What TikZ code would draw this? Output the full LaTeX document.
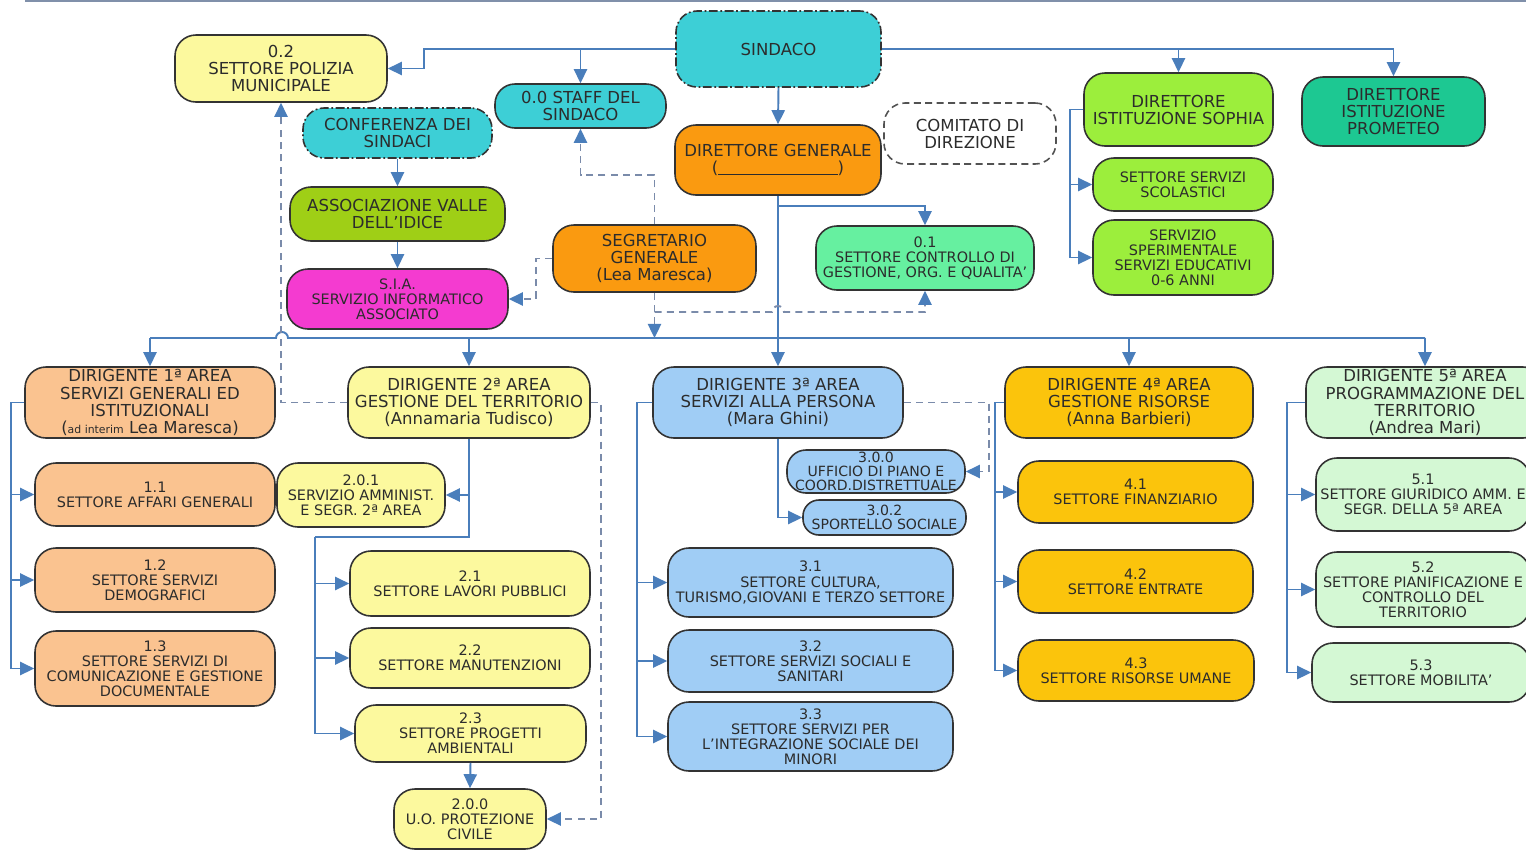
\documentclass[tikz,border=0pt]{standalone}
\usepackage{fontspec}
\setmainfont{DejaVu Sans}
\usetikzlibrary{arrows.meta}
\definecolor{cy}{HTML}{3DCFD6}
\definecolor{yel}{HTML}{FCF99E}
\definecolor{ygreen}{HTML}{9FCF16}
\definecolor{mag}{HTML}{F43BD0}
\definecolor{org}{HTML}{FA9A10}
\definecolor{lgreen}{HTML}{66F0A0}
\definecolor{sgreen}{HTML}{9CEE3C}
\definecolor{tealg}{HTML}{1DC892}
\definecolor{peach}{HTML}{FAC390}
\definecolor{lblue}{HTML}{A0CDF5}
\definecolor{gold}{HTML}{FBC40C}
\definecolor{pgreen}{HTML}{D4F8D4}
\definecolor{bord}{HTML}{333333}
\definecolor{txt}{HTML}{2C2C2C}
\definecolor{conn}{HTML}{4A7EBB}
\definecolor{dconn}{HTML}{7A8BAA}
\definecolor{topl}{HTML}{8090AA}
\newcommand{\fbig}{\fontsize{9.4}{9.7}\selectfont}
\newcommand{\fsm}{\fontsize{8.2}{8.6}\selectfont}
\newcommand{\obox}[7]{\node[#6, minimum width={(#4-#2)*0.02cm}, minimum height={(#5-#3)*0.02cm}] (#1) at ({(#2+#4)/2},{(#3+#5)/2}) {#7};}
\tikzset{
  bx/.style={draw=bord, line width=0.9pt, rounded corners=0.42cm, align=center, inner sep=1pt, text=txt, font=\fbig},
  sbx/.style={bx, font=\fsm},
  dashdot/.style={dash pattern=on 5pt off 1.5pt on 1pt off 1.5pt},
  dsh/.style={dash pattern=on 4pt off 2.5pt},
  ln/.style={draw=conn, line width=1.1pt},
  arr/.style={ln, -{Triangle[length=8pt,width=7.5pt]}},
  darr/.style={draw=dconn, line width=1.1pt, dash pattern=on 4pt off 3pt, -{Triangle[length=8pt,width=7.5pt,color=conn,fill=conn]}},
  dln/.style={draw=dconn, line width=1.1pt, dash pattern=on 4pt off 3pt}
}
\begin{document}
\begin{tikzpicture}[x=0.02cm, y=-0.02cm]
\useasboundingbox (0,0) rectangle (1526,850);
\clip (0,0) rectangle (1526,850);
\fill[white] (0,0) rectangle (1526,850);
\draw[topl, line width=1.5pt] (25,1) -- (1526,1);

% top level
\obox{sind}{676}{11}{881}{87}{bx, fill=cy, dashdot}{SINDACO}
\obox{pol}{175}{35}{387}{102}{bx, fill=yel}{0.2\\SETTORE POLIZIA\\MUNICIPALE}
\obox{staff}{495}{84}{666}{128}{bx, fill=cy, rounded corners=0.4cm}{0.0 STAFF DEL\\SINDACO}
\obox{conf}{303}{108}{492}{158}{bx, fill=cy, dashdot}{CONFERENZA DEI\\SINDACI}
\obox{assoc}{290}{187}{505}{241}{bx, fill=ygreen}{ASSOCIAZIONE VALLE\\DELL'IDICE}
\obox{sia}{287}{269}{508}{329}{sbx, fill=mag}{S.I.A.\\SERVIZIO INFORMATICO\\ASSOCIATO}
\obox{dg}{675}{125}{881}{195}{bx, fill=org}{DIRETTORE GENERALE\\(\rule[-1pt]{68pt}{0.5pt})}
\obox{com}{884}{103}{1056}{164}{bx, fill=white, draw=bord!85, dsh}{COMITATO DI\\DIREZIONE}
\obox{seg}{553}{225}{756}{292}{bx, fill=org}{SEGRETARIO\\GENERALE\\(Lea Maresca)}
\obox{q01}{816}{226}{1034}{290}{sbx, fill=lgreen}{0.1\\SETTORE CONTROLLO DI\\GESTIONE, ORG. E QUALITA'}
\obox{soph}{1084}{73}{1273}{146}{bx, fill=sgreen}{DIRETTORE\\ISTITUZIONE SOPHIA}
\obox{scol}{1093}{158}{1273}{211}{sbx, fill=sgreen}{SETTORE SERVIZI\\SCOLASTICI}
\obox{sper}{1093}{220}{1273}{295}{sbx, fill=sgreen}{SERVIZIO\\SPERIMENTALE\\SERVIZI EDUCATIVI\\0-6 ANNI}
\obox{prom}{1302}{77}{1485}{146}{bx, fill=tealg}{DIRETTORE\\ISTITUZIONE\\PROMETEO}

% area heads
\obox{dir1}{25}{367}{275}{438}{bx, fill=peach}{DIRIGENTE 1ª AREA\\SERVIZI GENERALI ED\\ISTITUZIONALI\\({\fontsize{6.2}{7}\selectfont ad interim} Lea Maresca)}
\obox{dir2}{348}{367}{590}{438}{bx, fill=yel}{DIRIGENTE 2ª AREA\\GESTIONE DEL TERRITORIO\\(Annamaria Tudisco)}
\obox{dir3}{653}{367}{903}{438}{bx, fill=lblue}{DIRIGENTE 3ª AREA\\SERVIZI ALLA PERSONA\\(Mara Ghini)}
\obox{dir4}{1005}{367}{1253}{438}{bx, fill=gold}{DIRIGENTE 4ª AREA\\GESTIONE RISORSE\\(Anna Barbieri)}
\obox{dir5}{1306}{367}{1544}{438}{bx, fill=pgreen}{DIRIGENTE 5ª AREA\\PROGRAMMAZIONE DEL\\TERRITORIO\\(Andrea Mari)}

% area 1
\obox{s11}{35}{463}{275}{526}{sbx, fill=peach}{1.1\\SETTORE AFFARI GENERALI}
\obox{s12}{35}{548}{275}{612}{sbx, fill=peach}{1.2\\SETTORE SERVIZI\\DEMOGRAFICI}
\obox{s13}{35}{631}{275}{706}{sbx, fill=peach}{1.3\\SETTORE SERVIZI DI\\COMUNICAZIONE E GESTIONE\\DOCUMENTALE}
% area 2
\obox{s201}{277}{463}{445}{527}{sbx, fill=yel}{2.0.1\\SERVIZIO AMMINIST.\\E SEGR. 2ª AREA}
\obox{s21}{350}{551}{590}{616}{sbx, fill=yel}{2.1\\SETTORE LAVORI PUBBLICI}
\obox{s22}{350}{628}{590}{688}{sbx, fill=yel}{2.2\\SETTORE MANUTENZIONI}
\obox{s23}{355}{705}{586}{762}{sbx, fill=yel}{2.3\\SETTORE PROGETTI\\AMBIENTALI}
\obox{s200}{394}{789}{546}{849}{sbx, fill=yel}{2.0.0\\U.O. PROTEZIONE\\CIVILE}
% area 3
\obox{s300}{787}{450}{965}{493}{sbx, fill=lblue, rounded corners=0.38cm, font=\fontsize{8}{7.9}\selectfont}{3.0.0\\UFFICIO DI PIANO E\\COORD.DISTRETTUALE}
\obox{s302}{803}{500}{966}{535}{sbx, fill=lblue, rounded corners=0.32cm, font=\fontsize{8}{7.9}\selectfont}{3.0.2\\SPORTELLO SOCIALE}
\obox{s31}{668}{548}{953}{617}{sbx, fill=lblue}{3.1\\SETTORE CULTURA,\\TURISMO,GIOVANI E TERZO SETTORE}
\obox{s32}{668}{630}{953}{692}{sbx, fill=lblue}{3.2\\SETTORE SERVIZI SOCIALI E\\SANITARI}
\obox{s33}{668}{702}{953}{771}{sbx, fill=lblue}{3.3\\SETTORE SERVIZI PER\\L'INTEGRAZIONE SOCIALE DEI\\MINORI}
% area 4
\obox{s41}{1018}{461}{1253}{523}{sbx, fill=gold}{4.1\\SETTORE FINANZIARIO}
\obox{s42}{1018}{550}{1253}{613}{sbx, fill=gold}{4.2\\SETTORE ENTRATE}
\obox{s43}{1018}{640}{1254}{701}{sbx, fill=gold}{4.3\\SETTORE RISORSE UMANE}
% area 5
\obox{s51}{1316}{458}{1530}{531}{sbx, fill=pgreen}{5.1\\SETTORE GIURIDICO AMM. E\\SEGR. DELLA 5ª AREA}
\obox{s52}{1316}{552}{1530}{627}{sbx, fill=pgreen}{5.2\\SETTORE PIANIFICAZIONE E\\CONTROLLO DEL\\TERRITORIO}
\obox{s53}{1312}{643}{1530}{702}{sbx, fill=pgreen}{5.3\\SETTORE MOBILITA'}

% junction coordinates
\coordinate (jpol) at (424,49);
\coordinate (bus) at (0,338);
\coordinate (jdg) at (0,206);
\coordinate (jstaff) at (0,175);
\coordinate (jsia) at (536,0);
\coordinate (jq) at (0,312);
\coordinate (k2) at (315,537);
\coordinate (hop1) at (276,338);
\coordinate (hop2) at (772,312);

% connectors from SINDACO
\draw[arr] (sind.west) -- (jpol) |- (pol.east);
\draw[arr] (staff.north |- sind.west) -- (staff.north);
\draw[arr] (sind.south) -- (dg.north);
\draw[ln] (sind.east) -- (prom.north |- sind.east);
\draw[arr] (soph.north |- sind.east) -- (soph.north);
\draw[arr] (prom.north |- sind.east) -- (prom.north);
\draw[arr] (conf.south) -- (assoc.north);
\draw[arr] (assoc.south) -- (sia.north);
% sophia children
\draw[arr] (soph.west) -- ++(-13,0) |- (scol.west);
\draw[arr] (soph.west) -- ++(-13,0) |- (sper.west);
% direttore generale
\draw[arr] (dg.south) -- (dir3.north);
\draw[arr] (dg.south |- jdg) -| (q01.north);
% bus (with a small hop over the dashed line)
\draw[ln] (dir1.north |- bus) -- (hop1) arc[start angle=180, end angle=360, radius=6] -- (dir5.north |- bus);
\draw[arr] (dir1.north |- bus) -- (dir1.north);
\draw[arr] (dir2.north |- bus) -- (dir2.north);
\draw[arr] (dir4.north |- bus) -- (dir4.north);
\draw[arr] (dir5.north |- bus) -- (dir5.north);
% segretario dashed
\draw[darr] (seg.north) -- (seg.north |- jstaff) -| (staff.south);
\draw[darr] (seg.west) -- (seg.west -| jsia) |- (sia.east);
\draw[darr] (seg.south) -- (seg.south |- bus);
\draw[darr] (seg.south |- jq) -- (hop2) arc[start angle=180, end angle=360, radius=6] -| (q01.south);
% polizia dashed
\draw[darr] (dir2.west) -| (pol.south);
% area 1
\draw[arr] (dir1.west) -- ++(-13,0) |- (s11.west);
\draw[arr] (dir1.west) -- ++(-13,0) |- (s12.west);
\draw[arr] (dir1.west) -- ++(-13,0) |- (s13.west);
% area 2
\draw[arr] (dir2.south) |- (s201.east);
\draw[ln] (dir2.south |- s201.east) -- (dir2.south |- k2) -- (k2);
\draw[arr] (k2) |- (s21.west);
\draw[arr] (k2) |- (s22.west);
\draw[arr] (k2) |- (s23.west);
\draw[arr] (s23.south) -- (s200.north);
\draw[darr] (dir2.east) -- ++(10,0) |- (s200.east);
% area 3
\draw[arr] (dir3.south) |- (s302.west);
\draw[darr] (dir3.east) -- ++(85,0) |- (s300.east);
\draw[arr] (dir3.west) -- ++(-15,0) |- (s31.west);
\draw[arr] (dir3.west) -- ++(-15,0) |- (s32.west);
\draw[arr] (dir3.west) -- ++(-15,0) |- (s33.west);
% area 4
\draw[arr] (dir4.west) -- ++(-9,0) |- (s41.west);
\draw[arr] (dir4.west) -- ++(-9,0) |- (s42.west);
\draw[arr] (dir4.west) -- ++(-9,0) |- (s43.west);
% area 5
\draw[arr] (dir5.west) -- ++(-18,0) |- (s51.west);
\draw[arr] (dir5.west) -- ++(-18,0) |- (s52.west);
\draw[arr] (dir5.west) -- ++(-18,0) |- (s53.west);
\end{tikzpicture}
\end{document}
